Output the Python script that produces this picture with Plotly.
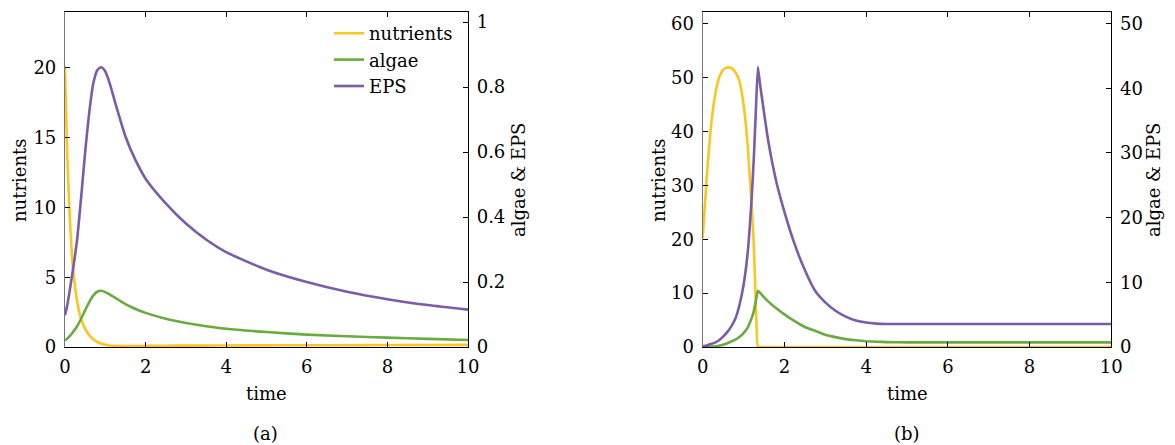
import plotly.graph_objects as go

# ---------------- data: panel (a) ----------------
time_a = [0, 0.05, 0.1, 0.15, 0.2, 0.3, 0.4, 0.5, 0.6, 0.7, 0.8, 0.9, 1.0, 1.1,
          1.25, 1.5, 1.75, 2, 2.5, 3, 3.5, 4, 5, 6, 7, 8, 9, 10]
nutrients_a = [20, 14.3, 10.4, 7.6, 5.6, 3.3, 2.0, 1.3, 0.85, 0.55, 0.36, 0.24, 0.16, 0.11,
               0.08, 0.07, 0.07, 0.08, 0.09, 0.10, 0.10, 0.11, 0.12, 0.13, 0.13, 0.14, 0.14, 0.15]
algae_a = [0.02, 0.025, 0.031, 0.038, 0.046, 0.064, 0.087, 0.113, 0.138, 0.158, 0.170, 0.173,
           0.169, 0.162, 0.151, 0.132, 0.117, 0.105, 0.087, 0.074, 0.064, 0.056, 0.046, 0.038,
           0.033, 0.029, 0.025, 0.0215]
eps_a = [0.098, 0.125, 0.16, 0.20, 0.24, 0.33, 0.46, 0.60, 0.72, 0.81, 0.852, 0.861, 0.848,
         0.815, 0.75, 0.648, 0.575, 0.518, 0.442, 0.38, 0.331, 0.292, 0.238, 0.20, 0.17,
         0.147, 0.129, 0.115]

# ---------------- data: panel (b) ----------------
time_b = [0, 0.1, 0.2, 0.3, 0.4, 0.5, 0.6, 0.7, 0.8, 0.9, 1.0, 1.1, 1.2, 1.25, 1.3, 1.35,
          1.4, 1.5, 1.6, 1.8, 2.0, 2.25, 2.5, 2.75, 3.0, 3.25, 3.5, 3.75, 4.0, 4.25, 4.5,
          5, 6, 7, 8, 9, 10]
nutrients_b = [20.2, 31.7, 40.8, 46.6, 50.0, 51.5, 51.9, 51.8, 51.0, 49.3, 45.0, 37.5, 26.0,
               19.1, 8.1, 0, 0, 0, 0, 0, 0, 0, 0, 0, 0, 0, 0, 0, 0, 0, 0, 0, 0, 0, 0, 0, 0]
algae_b = [0.02, 0.04, 0.07, 0.12, 0.2, 0.35, 0.58, 0.85, 1.15, 1.55, 2.15, 3.0, 4.5, 5.5,
           7.1, 8.7, 8.4, 7.7, 7.05, 6.0, 5.05, 4.0, 3.1, 2.5, 1.9, 1.53, 1.22, 1.04, 0.9,
           0.82, 0.76, 0.72, 0.72, 0.72, 0.72, 0.72, 0.72]
eps_b = [0.1, 0.25, 0.45, 0.68, 1.05, 1.6, 2.3, 3.2, 4.4, 6.5, 9.6, 14.5, 23.2, 29.1, 36.4,
         43.3, 40.8, 36.3, 32.0, 25.6, 20.9, 15.9, 11.9, 8.7, 6.9, 5.6, 4.7, 4.1, 3.78,
         3.62, 3.56, 3.55, 3.55, 3.55, 3.55, 3.55, 3.55]

x_ticks = [0, 2, 4, 6, 8, 10]
ya_left_ticks = [0, 5, 10, 15, 20]
ya_right_ticks = [0, 0.2, 0.4, 0.6, 0.8, 1]
ya_right_text = ["0", "0.2", "0.4", "0.6", "0.8", "1"]
yb_left_ticks = [0, 10, 20, 30, 40, 50, 60]
yb_right_ticks = [0, 10, 20, 30, 40, 50]

YELLOW = "#FDC520"
GREEN = "#6AAB40"
PURPLE = "#7B5CA8"
LW = 2.6
FONT = "DejaVu Serif"
FS = 18

W, H = 1175, 445

SPL = dict(shape="spline", smoothing=0.6)
SPLB = dict(shape="spline", smoothing=0.4)

fig = go.Figure()
fig.add_trace(go.Scatter(x=time_a, y=nutrients_a, name="nutrients", mode="lines",
                         line=dict(color=YELLOW, width=LW, **SPL), xaxis="x", yaxis="y"))
fig.add_trace(go.Scatter(x=time_a, y=algae_a, name="algae", mode="lines",
                         line=dict(color=GREEN, width=LW, **SPL), xaxis="x", yaxis="y2"))
fig.add_trace(go.Scatter(x=time_a, y=eps_a, name="EPS", mode="lines",
                         line=dict(color=PURPLE, width=LW, **SPL), xaxis="x", yaxis="y2"))
fig.add_trace(go.Scatter(x=time_b, y=nutrients_b, name="nutrients", mode="lines",
                         line=dict(color=YELLOW, width=LW, **SPLB), xaxis="x2", yaxis="y3",
                         showlegend=False))
fig.add_trace(go.Scatter(x=time_b, y=algae_b, name="algae", mode="lines",
                         line=dict(color=GREEN, width=LW, **SPLB),
                         xaxis="x2", yaxis="y4", showlegend=False))
fig.add_trace(go.Scatter(x=time_b, y=eps_b, name="EPS", mode="lines",
                         line=dict(color=PURPLE, width=LW, **SPLB),
                         xaxis="x2", yaxis="y4", showlegend=False))

def px_x(p):
    return p / W

def px_y(p):
    return (H - p) / H

ydom = [px_y(347), px_y(12)]
tickfont = dict(family=FONT, size=FS, color="black")

common_x = dict(range=[0, 10], tickvals=x_ticks, ticks="inside", ticklen=5, tickcolor="black",
                showline=True, linecolor="black", linewidth=1.2, mirror="ticks",
                showgrid=False, zeroline=False, tickfont=tickfont, ticklabelstandoff=3,
                automargin=False)
common_y = dict(ticks="inside", ticklen=5, tickcolor="black", showline=True, linewidth=1.2,
                showgrid=False, zeroline=False, tickfont=tickfont, ticklabelstandoff=4,
                automargin=False, domain=ydom)

fig.update_layout(
    width=W, height=H,
    margin=dict(l=0, r=0, t=0, b=0),
    paper_bgcolor="white", plot_bgcolor="white",
    font=dict(family=FONT, size=FS, color="black"),
    xaxis=dict(domain=[px_x(65), px_x(468)], anchor="y", **common_x),
    xaxis2=dict(domain=[px_x(702.7), px_x(1111.3)], anchor="y3", **common_x),
    yaxis=dict(range=[0, 24], tickvals=ya_left_ticks, anchor="x", side="left",
               linecolor="#777777", **common_y),
    yaxis2=dict(range=[0, 1.031], tickvals=ya_right_ticks, ticktext=ya_right_text,
                anchor="x", side="right", overlaying="y", linecolor="black", **common_y),
    yaxis3=dict(range=[0, 62.2], tickvals=yb_left_ticks, anchor="x2", side="left",
                linecolor="#777777", **common_y),
    yaxis4=dict(range=[0, 51.8], tickvals=yb_right_ticks, anchor="x2", side="right",
                overlaying="y3", linecolor="black", **common_y),
    legend=dict(x=px_x(329), y=px_y(15), xanchor="left", yanchor="top",
                bgcolor="rgba(255,255,255,0)", borderwidth=0,
                font=dict(family=FONT, size=FS, color="black"), tracegroupgap=0),
    showlegend=True,
)

anns = [
    dict(text="time", x=px_x(266.5), y=px_y(393)),
    dict(text="time", x=px_x(907), y=px_y(393)),
    dict(text="(a)", x=px_x(265), y=px_y(433)),
    dict(text="(b)", x=px_x(907), y=px_y(433)),
    dict(text="nutrients", x=px_x(19), y=px_y(180), textangle=-90),
    dict(text="algae &amp; EPS", x=px_x(518), y=px_y(180), textangle=-90),
    dict(text="nutrients", x=px_x(658), y=px_y(180), textangle=-90),
    dict(text="algae &amp; EPS", x=px_x(1153), y=px_y(180), textangle=-90),
]
for a in anns:
    fig.add_annotation(xref="paper", yref="paper", showarrow=False,
                       xanchor="center", yanchor="middle",
                       font=dict(family=FONT, size=FS, color="black"), **a)

fig.write_html("out.html", config={"displayModeBar": False},
               post_script="document.body.style.margin='0px';document.body.style.padding='0px';")
